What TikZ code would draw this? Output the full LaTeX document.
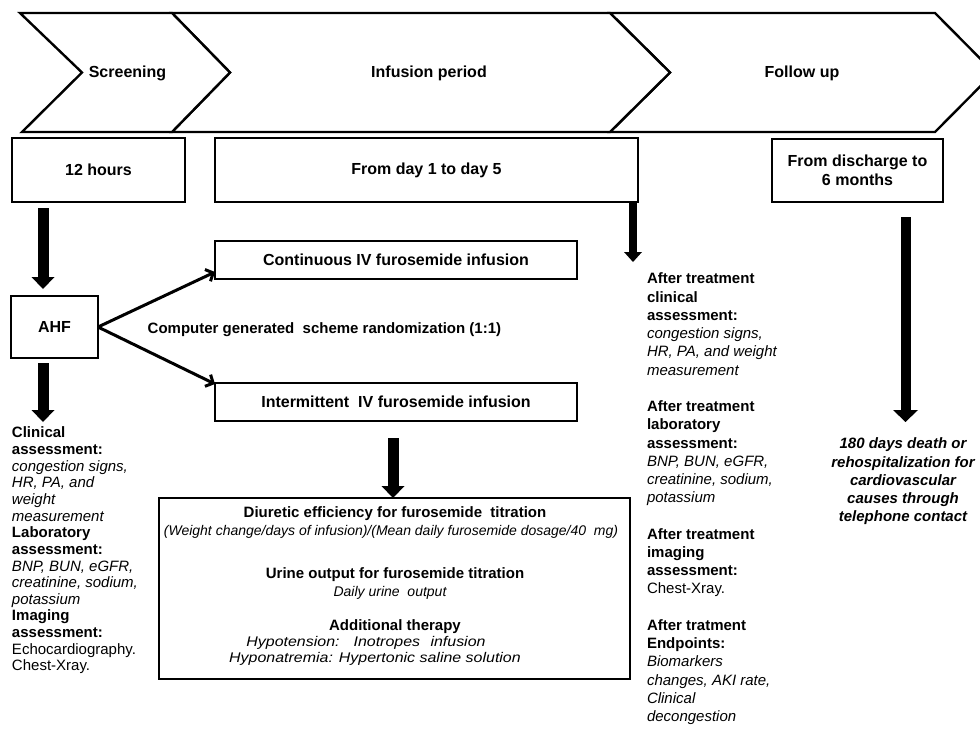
\documentclass[tikz,border=0pt]{standalone}
\usepackage{fontspec}
\setmainfont{Liberation Sans}
\usetikzlibrary{arrows.meta}
\newcommand{\fsz}[2]{\fontsize{#1}{#2}\selectfont}
\begin{document}
\begin{tikzpicture}[x=1pt,y=-1pt,
  phase/.style={draw=black,line width=2.4pt,line join=miter,fill=white},
  box/.style={draw=black,line width=2.8pt,rectangle,inner sep=0pt,outer sep=0pt,align=center,font=\fsz{16}{18.5}\bfseries},
  hdr/.style={anchor=base,inner sep=0pt,font=\fsz{16}{19}\bfseries},
  bline/.style={anchor=base,inner sep=0pt,font=\fsz{15}{18}\bfseries},
  iline/.style={anchor=base,inner sep=0pt,font=\fsz{14}{15}\itshape},
  wline/.style={anchor=base,inner sep=0pt,font=\fsz{14}{15}\itshape\addfontfeature{FakeStretch=1.14}},
  bigarrow/.style={line width=11pt,-{Triangle[width=23pt,length=12pt,line width=0pt]}},
  midarrow/.style={line width=8pt,-{Triangle[width=18pt,length=10pt,line width=0pt]}},
  thinarrow/.style={line width=3pt,-{Straight Barb[length=6pt,width=13pt]}},
  coltext/.style={inner sep=0pt,outer sep=0pt,align=left,anchor=north west}
]
\useasboundingbox (0,0) rectangle (980,740);
\fill[white] (0,0) rectangle (980,740);

% phase chevrons
\begin{scope}
\clip (0,0) rectangle (980,740);
\draw[phase] (610,13) -- (935,13) -- (994,72.5) -- (935,132) -- (610,132) -- (670,72.5) -- cycle;
\draw[phase] (172,13) -- (610,13) -- (670,72.5) -- (610,132) -- (172,132) -- (230,72.5) -- cycle;
\draw[phase] (20,13) -- (172,13) -- (230,72.5) -- (172,132) -- (22,132) -- (82,72.5) -- cycle;
\end{scope}
\node[hdr] (screen) at (127.5,77) {Screening};
\node[hdr] (infper) at (429,77) {Infusion period};
\node[hdr] (follow) at (802,77) {Follow up};

% time boxes
\node[box,minimum width=173pt,minimum height=64pt] (hours) at (98.5,170) {12 hours};
\node[box,minimum width=423pt,minimum height=64pt] (dayone) at (426.5,170) {From day 1 to day 5};
\node[box,minimum width=171pt,minimum height=63pt] (disch) at (857.5,170.5) {From discharge to\\6 months};

% flow boxes
\node[box,minimum width=87pt,minimum height=62pt] (ahf) at (54.5,327) {AHF};
\node[box,minimum width=362pt,minimum height=38pt] (cont) at (396,260) {Continuous IV furosemide infusion};
\node[box,minimum width=362pt,minimum height=38pt] (inter) at (396,402) {Intermittent\ \ IV furosemide infusion};
\node[box,minimum width=471pt,minimum height=181pt] (big) at (394.5,588.5) {};

\node[anchor=base west,inner sep=0pt,font=\fsz{15}{18}\bfseries] (rand) at (147.5,333) {Computer generated\ \ scheme randomization (1:1)};

% big box content
\node[bline] (de) at (395,517) {Diuretic efficiency for furosemide\ \ titration};
\node[iline] (def) at (391,535) {(Weight change/days of infusion)/(Mean daily furosemide dosage/40\ \ mg)};
\node[bline] (uo) at (395,578) {Urine output for furosemide titration};
\node[iline] (uod) at (390,596) {Daily urine\ \ output};
\node[bline] (at) at (395,630.5) {Additional therapy};
\node[wline] (at1) at (366,646.5) {Hypotension:\hspace{14pt}Inotropes\hspace{6pt} infusion};
\node[wline] (at2) at (375,662.5) {Hyponatremia: Hypertonic saline solution};

% left column
\node[coltext,font=\fsz{15}{16.64}] (clin) at (12,427) {%
\textbf{Clinical}\\
\textbf{assessment:}\\
\textit{congestion signs,}\\
\textit{HR, PA, and}\\
\textit{weight}\\
\textit{measurement}\\
\textbf{Laboratory}\\
\textbf{assessment:}\\
\textit{BNP, BUN, eGFR,}\\
\textit{creatinine, sodium,}\\
\textit{potassium}\\
\textbf{Imaging}\\
\textbf{assessment:}\\
Echocardiography.\\
Chest-Xray.};

% right column
\node[coltext,font=\fsz{15}{18.24}] (after) at (647,273) {%
\textbf{After treatment}\\
\textbf{clinical}\\
\textbf{assessment:}\\
\textit{congestion signs,}\\
\textit{HR, PA, and weight}\\
\textit{measurement}\\[18.24pt]
\textbf{After treatment}\\
\textbf{laboratory}\\
\textbf{assessment:}\\
\textit{BNP, BUN, eGFR,}\\
\textit{creatinine, sodium,}\\
\textit{potassium}\\[18.24pt]
\textbf{After treatment}\\
\textbf{imaging}\\
\textbf{assessment:}\\
Chest-Xray.\\[18.24pt]
\textbf{After tratment}\\
\textbf{Endpoints:}\\
\textit{Biomarkers}\\
\textit{changes, AKI rate,}\\
\textit{Clinical}\\
\textit{decongestion}};

\node[inner sep=0pt,outer sep=0pt,anchor=north,align=center,font=\fsz{15}{18.2}\bfseries\itshape] (fu) at (903,438) {180 days death or\\rehospitalization for\\cardiovascular\\causes through\\telephone contact};

% connectors
\draw[bigarrow] ([xshift=31pt,yshift=-6pt]hours.south west) -- ([xshift=32pt,yshift=7pt]ahf.north west);
\draw[bigarrow] ([xshift=32pt,yshift=-5pt]ahf.south west) -- ([xshift=31pt,yshift=5pt]clin.north west);
\draw[thinarrow] (ahf.east) -- ([yshift=7pt]cont.south west);
\draw[thinarrow] (ahf.east) -- ([yshift=-1pt]inter.north west);
\draw[bigarrow] ([xshift=-3pt,yshift=-17pt]inter.south) -- ([xshift=-1.5pt]big.north);
\draw[midarrow] ([xshift=-5pt]dayone.south east) -- ([xshift=-14pt,yshift=11pt]after.north west);
\draw[line width=10pt,-{Triangle[width=25pt,length=12pt,line width=0pt]}] ([xshift=48pt,yshift=-15pt]disch.south) -- ([xshift=2.5pt,yshift=16pt]fu.north);
\end{tikzpicture}
\end{document}
